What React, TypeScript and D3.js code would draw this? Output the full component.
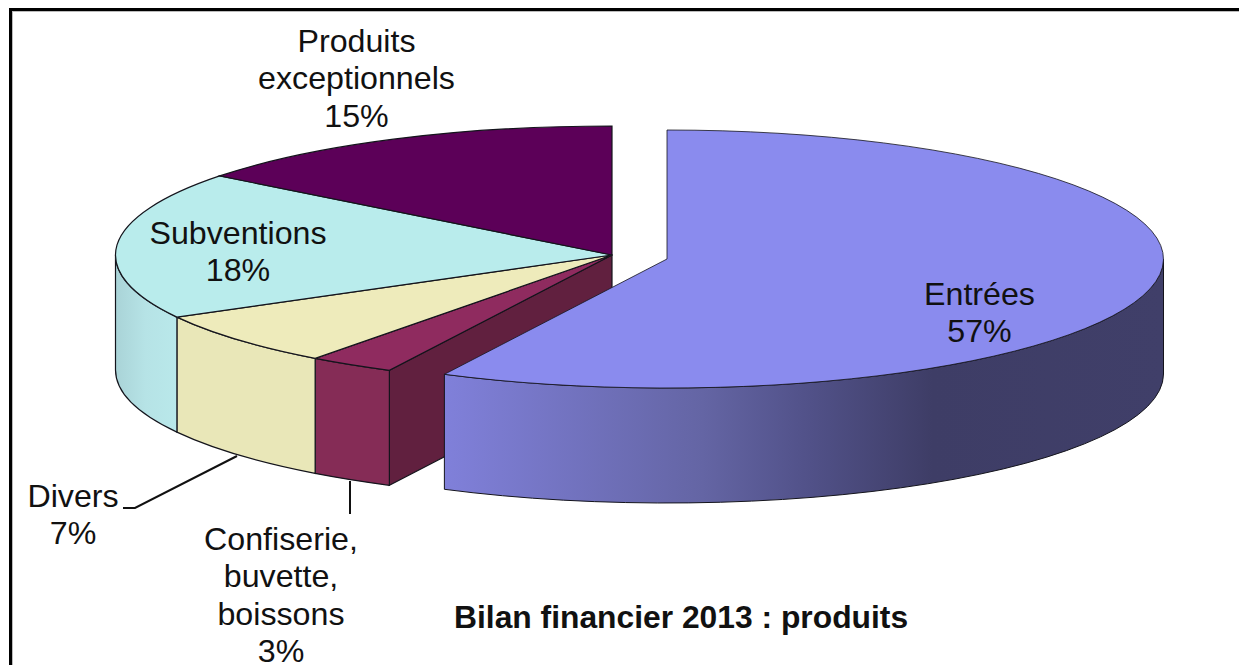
import React from "react";
import * as d3 from "d3";

const categories = ["Entrées", "Confiserie, buvette, boissons", "Divers", "Subventions", "Produits exceptionnels"];
const shares = [57.4, 2.8, 6.8, 18.5, 14.5];
const topColors = ["#8a8bee", "#8f2b5f", "#eeebbb", "#b9ecec", "#5c0058"];
const wallColors = ["url(#wallEntrees)", "#852c56", "#e9e7b8", "url(#wallSub)", "#5c0058"];
const labelLines = [
  ["Entrées", "57%"],
  ["Confiserie,", "buvette,", "boissons", "3%"],
  ["Divers", "7%"],
  ["Subventions", "18%"],
  ["Produits", "exceptionnels", "15%"],
];
const labelX = [979.5, 281, 73, 238, 356.5];
const labelY = [305, 550, 506.5, 244, 52];
const title = "Bilan financier 2013 : produits";

const RX = 496.5;
const RY = 129;
const DEPTH = 115;
const mainC = { x: 612, y: 255 };
const explodedC = { x: 667, y: 259 };
const Q = Math.PI / 2;

const pieGen = d3.pie<number>().sort(null).startAngle(0).endAngle(2 * Math.PI);
const slices = pieGen(shares);

type C = { x: number; y: number };
const pt = (c: C, a: number, dy = 0) => ({
  x: c.x + RX * Math.sin(a),
  y: c.y - RY * Math.cos(a) + dy,
});
const fmt = (p: { x: number; y: number }) => `${p.x.toFixed(2)} ${p.y.toFixed(2)}`;
const arcTo = (from: number, to: number, c: C, dy = 0) => {
  const sweep = to > from ? 1 : 0;
  const large = Math.abs(to - from) > Math.PI ? 1 : 0;
  return `A ${RX} ${RY} 0 ${large} ${sweep} ${fmt(pt(c, to, dy))}`;
};
const topPath = (c: C, a0: number, a1: number) =>
  `M ${c.x} ${c.y} L ${fmt(pt(c, a0))} ${arcTo(a0, a1, c)} Z`;
const wallPath = (c: C, a0: number, a1: number) => {
  const s = Math.max(a0, Q);
  const e = Math.min(a1, 3 * Q);
  if (e <= s) return null;
  return `M ${fmt(pt(c, s))} ${arcTo(s, e, c)} L ${fmt(pt(c, e, DEPTH))} ${arcTo(e, s, c, DEPTH)} Z`;
};
const stroke = "#14141c";

export default function App() {
  const confiserieStart = slices[1].startAngle;
  const cutOuter = pt(mainC, confiserieStart);
  const cutPath = `M ${mainC.x} ${mainC.y} L ${fmt(cutOuter)} L ${cutOuter.x} ${cutOuter.y + DEPTH} L ${mainC.x} ${mainC.y + DEPTH} Z`;
  const text = { fontFamily: "'Liberation Sans', Arial, sans-serif", fill: "#111" };
  return (
    <svg width={1239} height={665} style={{ position: "absolute", left: 0, top: 0, background: "#fff" }}>
      <defs>
        <linearGradient id="wallEntrees" gradientUnits="userSpaceOnUse" x1={444} x2={1163} y1={0} y2={0}>
          <stop offset="0" stopColor="#8080da" />
          <stop offset="0.36" stopColor="#6465a4" />
          <stop offset="0.5" stopColor="#52528a" />
          <stop offset="0.68" stopColor="#3e3d66" />
          <stop offset="1" stopColor="#403f69" />
        </linearGradient>
        <linearGradient id="wallSub" gradientUnits="userSpaceOnUse" x1={115} x2={176} y1={0} y2={0}>
          <stop offset="0" stopColor="#a9d3d7" />
          <stop offset="0.5" stopColor="#b6e3e6" />
          <stop offset="1" stopColor="#b9e8ea" />
        </linearGradient>
      </defs>
      <rect x={12} y={11} width={1227} height={1} fill="#bbb" />
      <rect x={12} y={11} width={1} height={654} fill="#bbb" />
      <rect x={9} y={8} width={1230} height={3} fill="#000" />
      <rect x={9} y={8} width={3} height={657} fill="#000" />

      <path d={cutPath} fill="#61203f" stroke={stroke} strokeWidth={1.2} />
      {slices.slice(1).map((s, i) => {
        const d = wallPath(mainC, s.startAngle, s.endAngle);
        return d ? <path key={categories[i + 1]} d={d} fill={wallColors[i + 1]} stroke={stroke} strokeWidth={1.2} /> : null;
      })}
      {slices.slice(1).map((s, i) => (
        <path key={categories[i + 1]} d={topPath(mainC, s.startAngle, s.endAngle)} fill={topColors[i + 1]} stroke={stroke} strokeWidth={1.2} />
      ))}
      <path d={wallPath(explodedC, slices[0].startAngle, slices[0].endAngle)!} fill={wallColors[0]} stroke={stroke} strokeWidth={1} />
      <path d={topPath(explodedC, slices[0].startAngle, slices[0].endAngle)} fill={topColors[0]} stroke={stroke} strokeWidth={0.8} />

      <polyline points="123,508 135,508 237,456" fill="none" stroke="#111" strokeWidth={2} />
      <line x1={350} y1={481} x2={350} y2={514} stroke="#111" strokeWidth={2} />

      {labelLines.map((lines, i) => (
        <text key={categories[i]} textAnchor="middle" fontSize={32.2} {...text}>
          {lines.map((l, j) => (
            <tspan key={j} x={labelX[i]} y={labelY[i] + j * 37.4}>{l}</tspan>
          ))}
        </text>
      ))}
      <text x={454} y={628} fontSize={31.8} fontWeight="bold" {...text}>{title}</text>
    </svg>
  );
}
